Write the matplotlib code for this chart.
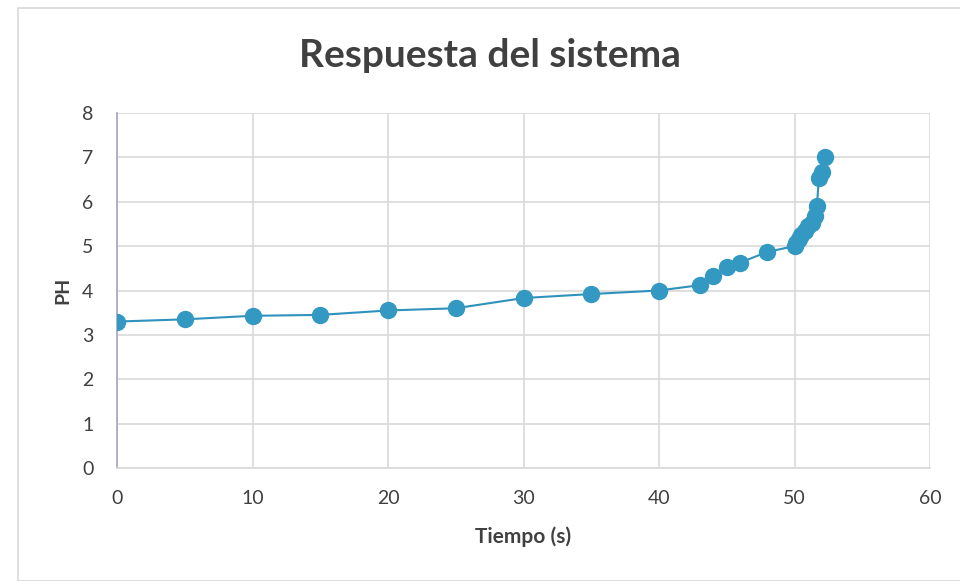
import matplotlib.pyplot as plt
from matplotlib.patches import Rectangle

tiempo = [0, 5, 10, 15, 20, 25, 30, 35, 40, 43, 44, 45, 46, 48, 50,
          50.1, 50.3, 50.5, 50.8, 51.0, 51.3, 51.5, 51.65, 51.8, 52.0, 52.25]
ph = [3.3, 3.35, 3.43, 3.45, 3.55, 3.6, 3.83, 3.92, 4.0, 4.12, 4.32, 4.52, 4.63, 4.87, 5.0,
      5.08, 5.15, 5.25, 5.35, 5.45, 5.52, 5.68, 5.9, 6.53, 6.68, 7.0]

plt.rcParams['font.family'] = ['Lato', 'DejaVu Sans']

fig = plt.figure(figsize=(9.6, 5.81), dpi=100)
fig.patches.append(Rectangle((18 / 960, 0), 1.2, (581 - 8) / 581, transform=fig.transFigure,
                             fill=False, edgecolor='#d9d9d9', linewidth=1.2))

ax = fig.add_axes([117 / 960, 113 / 581, 813 / 960, 355 / 581])
ax.plot(tiempo, ph, color='#2e92bd', linewidth=1.5, marker='o', markersize=11.5,
        markerfacecolor='#3399c2', markeredgecolor='#3399c2', zorder=3)

ax.set_xlim(0, 60)
ax.set_ylim(0, 8)
ax.set_xticks(range(0, 61, 10))
ax.set_yticks(range(0, 9))
ax.grid(True, color='#d9d9d9', linewidth=1.2)
ax.set_axisbelow(True)
for side in ['top', 'right']:
    ax.spines[side].set_visible(False)
ax.spines['left'].set_color('#a8a3c0')
ax.spines['bottom'].set_color('#d9d9d9')
ax.spines['left'].set_linewidth(1.2)
ax.spines['bottom'].set_linewidth(1.2)
ax.tick_params(axis='x', length=0, labelsize=14, colors='#404040', pad=16)
ax.tick_params(axis='y', length=0, labelsize=14, colors='#404040', pad=17)

ax.set_xlabel('Tiempo (s)', fontsize=15, fontweight='bold', color='#404040', labelpad=14)
ax.set_ylabel('PH', fontsize=14, fontweight='bold', color='#404040', labelpad=8)
fig.text(0.51, 0.905, 'Respuesta del sistema', ha='center', va='center',
         fontsize=28, fontweight='bold', color='#404040')

fig.savefig('out.png', dpi=100)
